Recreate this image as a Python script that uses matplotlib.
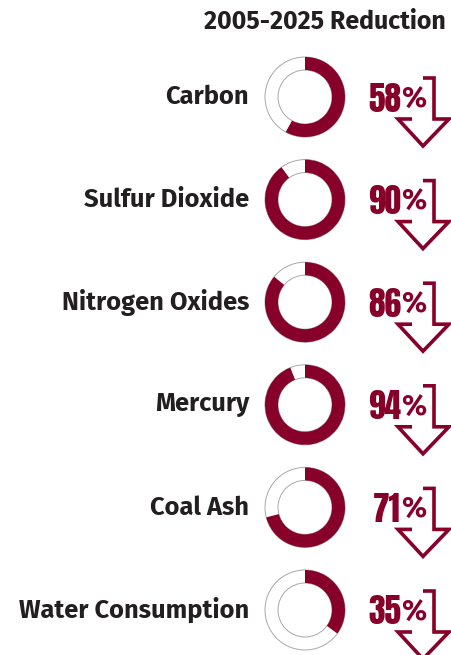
import matplotlib.pyplot as plt
from matplotlib.patches import Wedge, Circle

pollutants = ["Carbon", "Sulfur Dioxide", "Nitrogen Oxides", "Mercury", "Coal Ash", "Water Consumption"]
reduction = [58, 90, 86, 94, 71, 35]

red = "#870029"
dark = "#231f20"
label_font = ["Fira Sans", "DejaVu Sans"]

fig = plt.figure(figsize=(4.52, 6.55), dpi=100)
ax = fig.add_axes([0, 0, 1, 1])
ax.set_xlim(0, 452)
ax.set_ylim(655, 0)
ax.axis("off")

ax.text(446, 22, "2005-2025 Reduction", ha="right", va="center",
        fontsize=18, fontweight="bold", color=dark, family=label_font)

cx, r_out, width = 305, 40, 13
for i, (name, pct) in enumerate(zip(pollutants, reduction)):
    cy = 97 + i * 102.6
    ax.text(249, cy, name, ha="right", va="center", fontsize=18.3,
            fontweight="bold", color=dark, family=label_font)
    # gray outline ring
    ax.add_patch(Circle((cx, cy), r_out, fill=False, ec="#a8a8a8", lw=0.7))
    ax.add_patch(Circle((cx, cy), r_out - width, fill=False, ec="#a8a8a8", lw=0.7))
    # red part, clockwise from the top (y axis is inverted)
    ax.add_patch(Wedge((cx, cy), r_out, 270, 270 + pct * 3.6, width=width,
                       fc=red, ec="none"))
    # arrow outline
    ax.plot([423, 434, 434, 449, 423, 398, 412],
            [cy - 19, cy - 19, cy + 22, cy + 22, cy + 49, cy + 22, cy + 22],
            color=red, lw=2.6, solid_joinstyle="miter", solid_capstyle="butt")
    ax.text(401, cy + 2, f"{pct}", ha="right", va="center", fontsize=24,
            color=red, family=["Anton", "DejaVu Sans"])
    ax.text(401, cy + 3, "%", ha="left", va="center", fontsize=21,
            fontweight="bold", color=red, family=label_font,
            bbox=dict(fc="white", ec="none", pad=0.3))

fig.savefig("out.png", dpi=100)
